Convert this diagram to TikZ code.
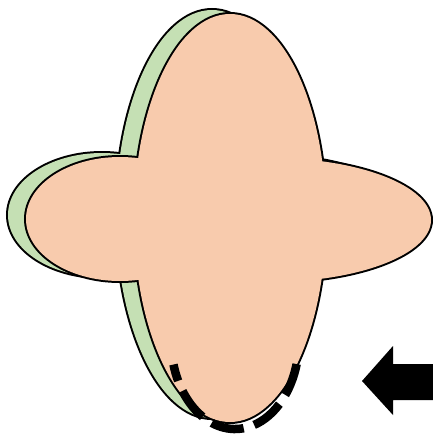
\documentclass[tikz,border=0pt]{standalone}
\usetikzlibrary{calc}
\definecolor{lobeorange}{HTML}{F8CBAD}
\definecolor{lobegreen}{HTML}{C5E0B4}
\tikzset{
  outlinethick/.style={draw=black, line width=4pt},
  dashedarc/.style={draw=black, line width=8.5pt, dash pattern=on 33pt off 11pt, dash phase=16pt},
  blockarrow/.style={fill=black, draw=none}
}
\newcommand{\crossshape}[1]{%
  \path[outlinethick] (230,-218) ellipse [x radius=96pt, y radius=204pt];
  \path[outlinethick] (120,-219) ellipse [x radius=94pt, y radius=62pt];
  \path[outlinethick] (270,-220) ellipse [x radius=161pt, y radius=62pt];
  \fill[#1] (230,-218) ellipse [x radius=96pt, y radius=204pt];
  \fill[#1] (120,-219) ellipse [x radius=94pt, y radius=62pt];
  \fill[#1] (270,-220) ellipse [x radius=161pt, y radius=62pt];
}
\begin{document}
\begin{tikzpicture}[x=1pt,y=1pt]
\useasboundingbox (0,0) rectangle (433,-434);
% green shape (offset)
\begin{scope}[shift={(-18,4)}]
  \crossshape{lobegreen}
\end{scope}
% orange shape
\crossshape{lobeorange}
% dashed arc
\coordinate (arcstart) at ($(235,-340)+(196:64pt and 89pt)$);
\path[dashedarc] (arcstart) arc [start angle=196, end angle=350, x radius=64pt, y radius=89pt];
% block arrow
\path[blockarrow] (362,-381) -- (393,-346) -- (393,-364) -- (433,-364) -- (433,-400) -- (393,-400) -- (393,-415) -- cycle;
\end{tikzpicture}
\end{document}
